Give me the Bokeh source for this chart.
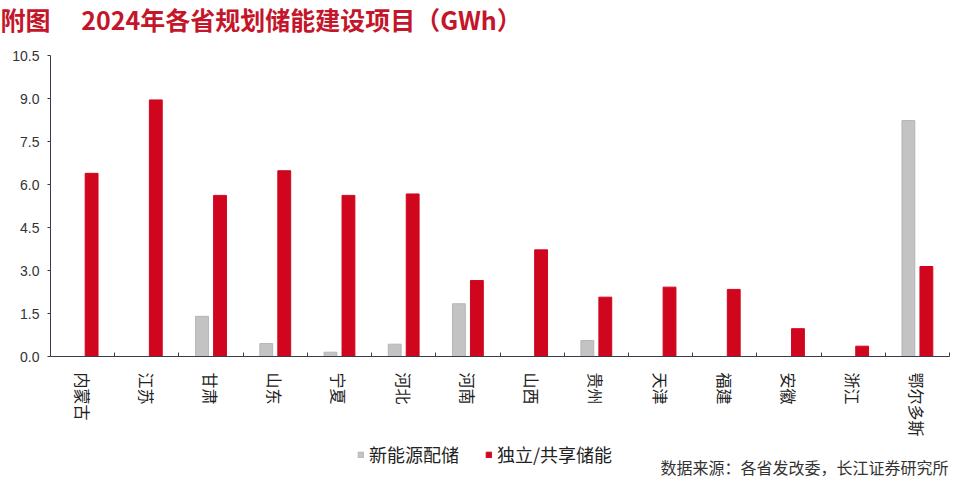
from bokeh.plotting import figure
from bokeh.layouts import column
from bokeh.models import (FixedTicker, Label, Legend, LegendItem, NumeralTickFormatter,
                          Range1d)
from bokeh.embed import file_html
from bokeh.resources import INLINE

provinces = ["内蒙古", "江苏", "甘肃", "山东", "宁夏", "河北", "河南", "山西",
             "贵州", "天津", "福建", "安徽", "浙江", "鄂尔多斯"]
new_energy = [0, 0, 1.40, 0.45, 0.15, 0.43, 1.84, 0, 0.56, 0, 0, 0, 0, 8.23]
standalone = [6.39, 8.95, 5.62, 6.48, 5.62, 5.67, 2.65, 3.72, 2.07, 2.42, 2.34, 0.97, 0.36, 3.14]
y_ticks = [0, 1.5, 3.0, 4.5, 6.0, 7.5, 9.0, 10.5]
series_names = ["新能源配储", "独立/共享储能"]
title_text = "附图\u3000 2024年各省规划储能建设项目（GWh）"
source_text = "数据来源：各省发改委，长江证券研究所"

RED = "#d0061e"
GRAY = "#c3c3c3"
GRAY_EDGE = "#b5b5b5"
TITLE_RED = "#c4162a"
CJK = "Noto Sans CJK SC"

W, H = 960, 485
TOP_H = 41          # title strip
MAIN_H = 398        # chart
BOT_H = H - TOP_H - MAIN_H   # legend / source strip
BL, BR = 50, 11     # left / right borders shared by all strips
AXIS_PANEL = 83     # space below the frame for the category labels


def blank(height, **kw):
    f = figure(width=W, height=height, output_backend="svg", toolbar_location=None,
               x_axis_type=None, y_axis_type=None,
               min_border_left=BL, min_border_right=BR, **kw)
    f.grid.visible = False
    f.outline_line_color = None
    f.background_fill_color = "white"
    f.border_fill_color = "white"
    return f


# ---- title strip
t = blank(TOP_H, min_border_top=0, min_border_bottom=0,
          x_range=Range1d(0, 1), y_range=Range1d(0, 1))
t.title.text = title_text
t.title.text_font = CJK
t.title.text_font_size = "25px"
t.title.text_font_style = "bold"
t.title.text_color = TITLE_RED
t.title.align = "left"
t.title.vertical_align = "top"
t.title.offset = -BL
t.title.standoff = 0

# ---- main chart
n = len(provinces)
centers = [i + 0.5 for i in range(n)]

p = figure(width=W, height=MAIN_H, output_backend="svg", toolbar_location=None,
           x_range=Range1d(0, n), y_range=Range1d(0, 10.5),
           min_border_left=BL, min_border_right=BR, min_border_top=55 - TOP_H,
           min_border_bottom=AXIS_PANEL)
p.outline_line_color = None
p.xgrid.visible = False
p.ygrid.visible = False
p.background_fill_color = "white"
p.border_fill_color = "white"

gx = [c - 0.14 for c, v in zip(centers, new_energy) if v > 0]
gv = [v for v in new_energy if v > 0]
p.vbar(x=gx, top=gv, bottom=0, width=0.2, fill_color=GRAY, line_color=GRAY_EDGE, line_width=1)
p.vbar(x=[c + 0.14 for c in centers], top=standalone, bottom=0, width=0.2,
       fill_color=RED, line_color=RED)

xa = p.xaxis[0]
xa.ticker = FixedTicker(ticks=centers, minor_ticks=list(range(1, n + 1)))
xa.major_label_overrides = {c: name for c, name in zip(centers, provinces)}
xa.major_label_orientation = "vertical"
xa.major_tick_line_color = None
xa.minor_tick_in = 4
xa.minor_tick_out = 0
xa.minor_tick_line_color = "#3a3a4a"
xa.axis_line_color = "#3a3a4a"
xa.major_label_text_font = CJK
xa.major_label_text_font_size = "16px"
xa.major_label_text_color = "#222222"
xa.major_label_standoff = 10

ya = p.yaxis[0]
ya.ticker = FixedTicker(ticks=y_ticks)
ya.formatter = NumeralTickFormatter(format="0.0")
ya.minor_tick_line_color = None
ya.major_tick_in = 0
ya.major_tick_out = 3
ya.major_tick_line_color = "#3a3a4a"
ya.axis_line_color = "#3a3a4a"
ya.major_label_text_font = "Liberation Sans"
ya.major_label_text_font_size = "14px"
ya.major_label_text_color = "#333333"
ya.major_label_standoff = 8

# ---- legend / source strip (x data = page pixels, y data = pixels from strip bottom)
b = blank(BOT_H, min_border_top=0, min_border_bottom=0,
          x_range=Range1d(BL, W - BR), y_range=Range1d(0, BOT_H))
# legend-only renderers, kept below the visible strip
lg_gray = b.vbar(x=[500], bottom=[-60], top=[-50], width=1, fill_color=GRAY, line_color=GRAY_EDGE)
lg_red = b.vbar(x=[500], bottom=[-60], top=[-50], width=1, fill_color=RED, line_color=RED)

legend = Legend(items=[LegendItem(label=series_names[0], renderers=[lg_gray]),
                       LegendItem(label=series_names[1], renderers=[lg_red])],
                orientation="horizontal", location=(357 - BL, 18),
                label_text_font=CJK, label_text_font_size="18px", label_text_color="#222222",
                glyph_width=7, glyph_height=7, spacing=26, padding=0, margin=0,
                border_line_color=None, background_fill_alpha=0, label_standoff=5)
b.add_layout(legend, "center")

b.add_layout(Label(x=948, y=H - 466, text=source_text,
                   text_font=CJK, text_font_size="16px", text_color="#333333",
                   text_align="right", text_baseline="middle"))

layout = column(t, p, b, spacing=0)
open("out.html", "w").write(file_html(layout, INLINE))
